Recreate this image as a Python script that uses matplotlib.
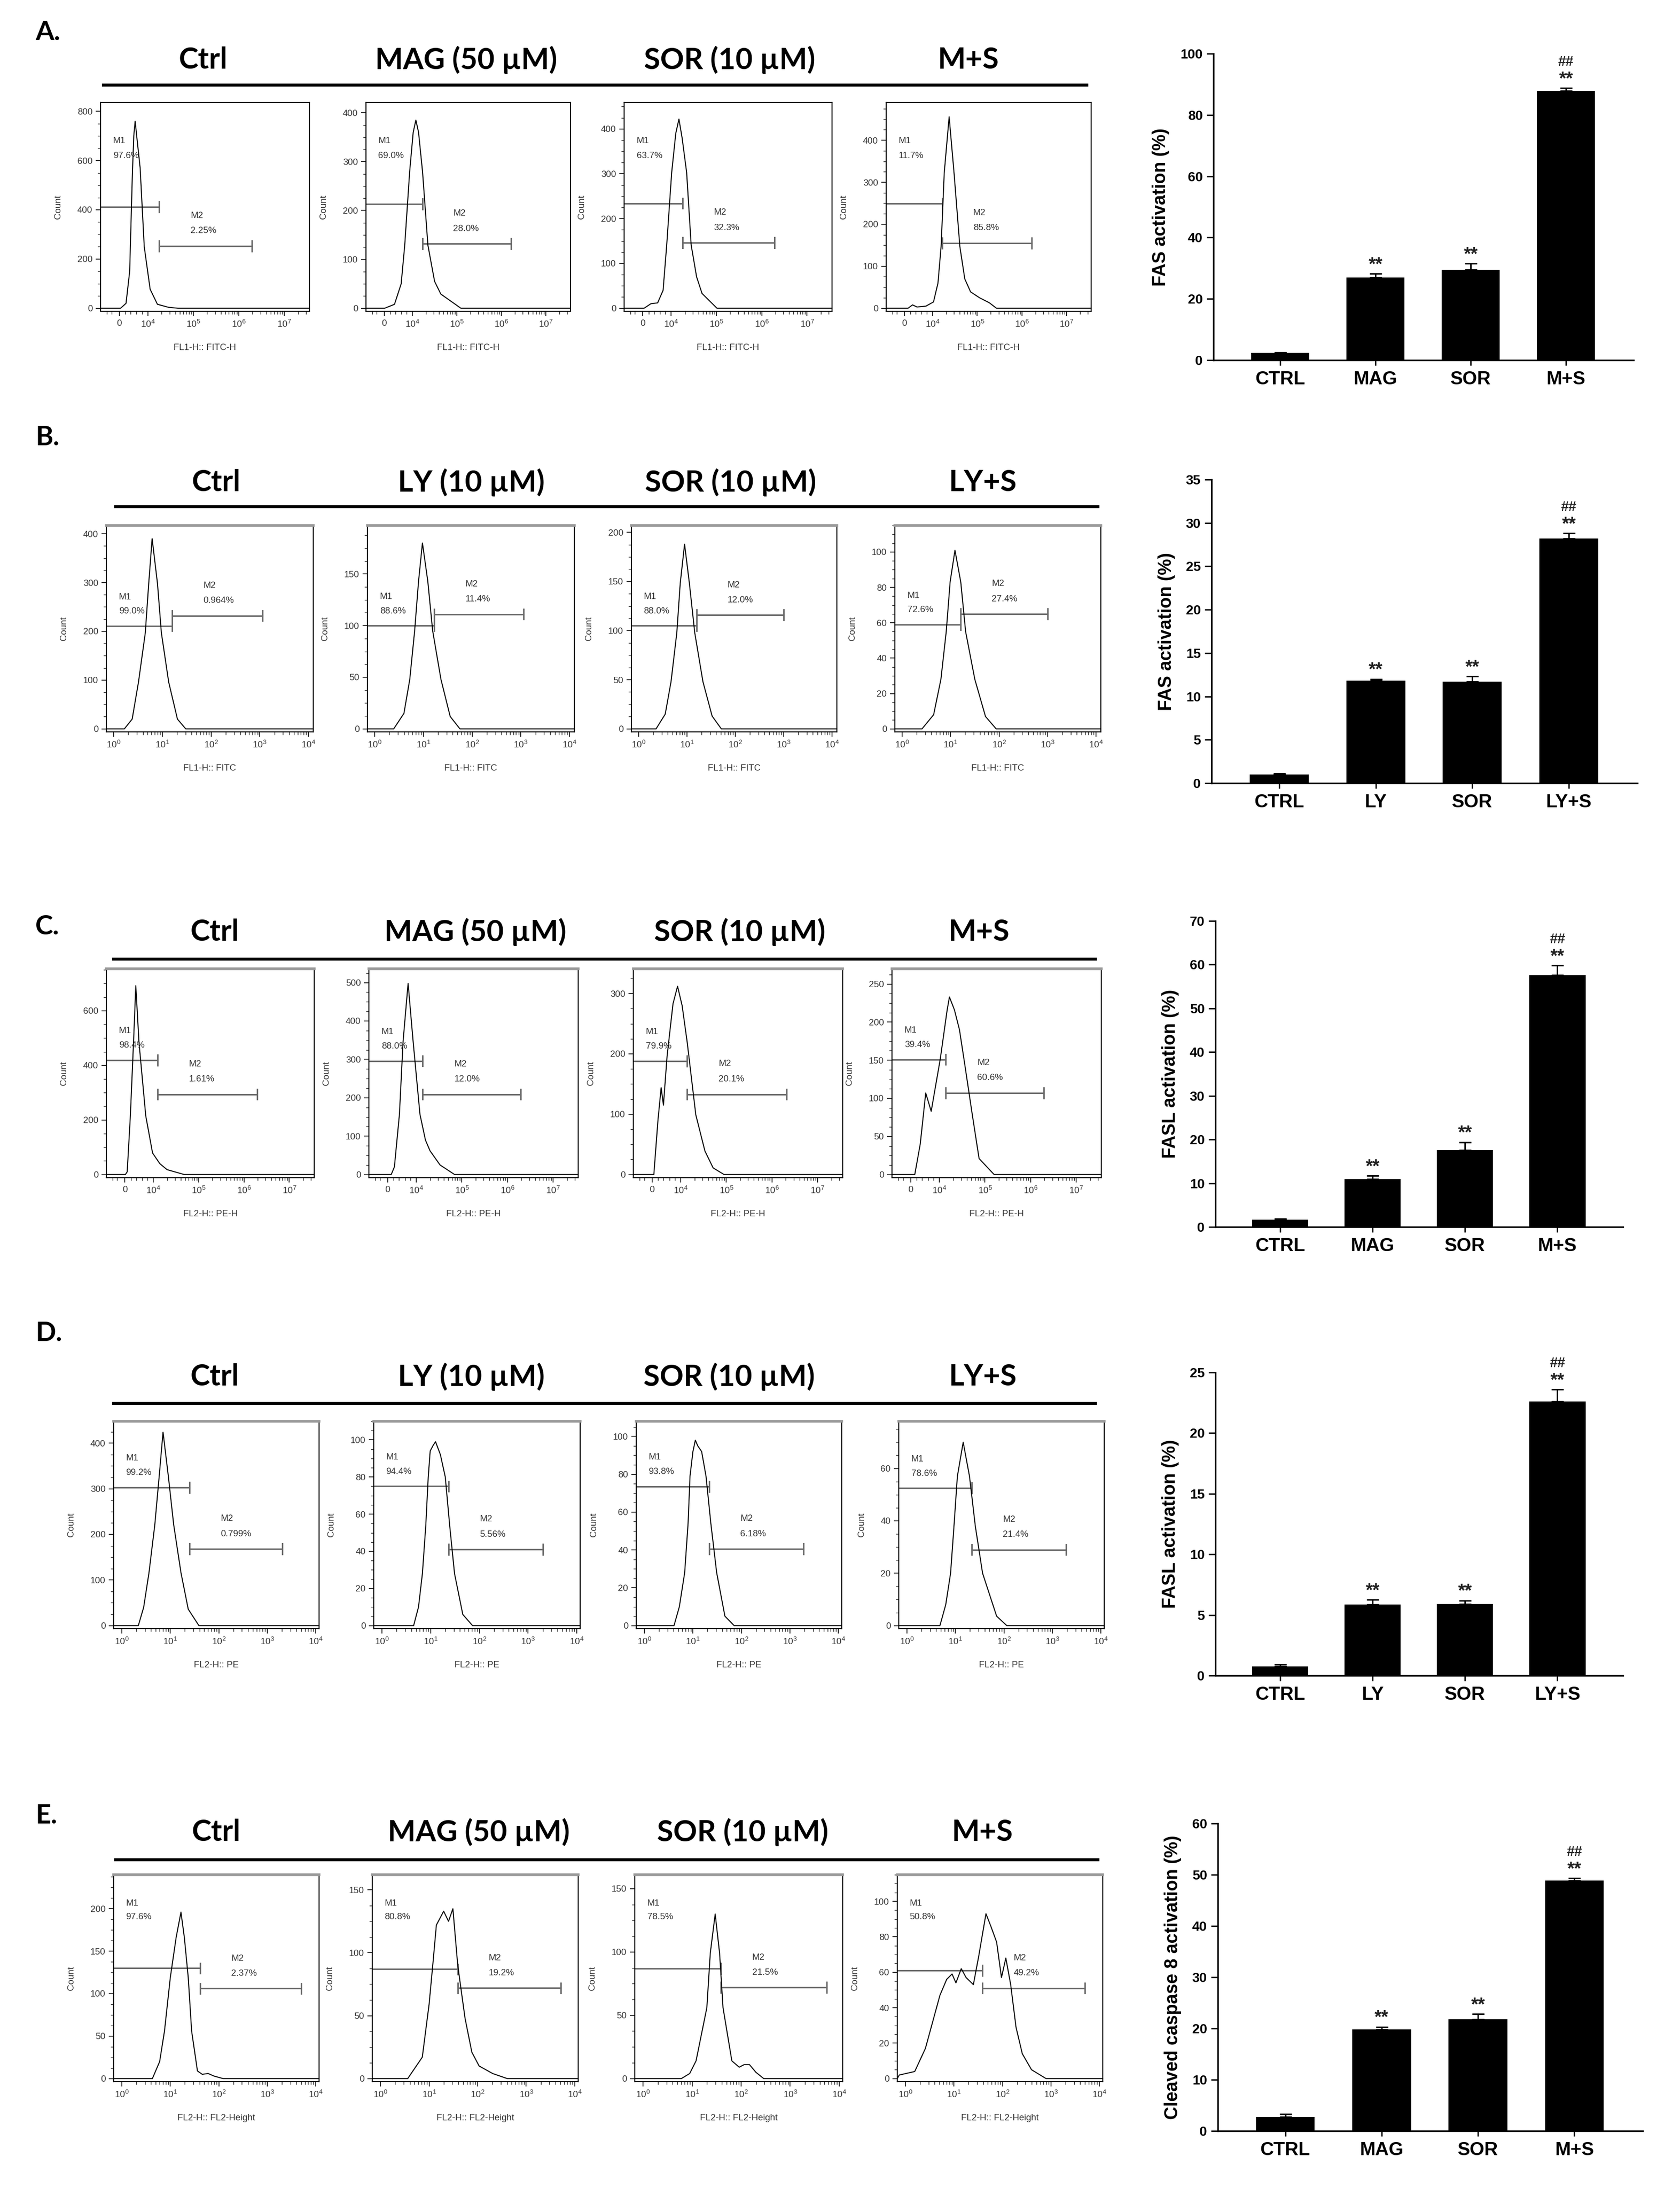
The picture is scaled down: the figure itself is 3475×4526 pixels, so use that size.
import matplotlib
matplotlib.use("Agg")
import matplotlib.pyplot as plt
from matplotlib.lines import Line2D
from matplotlib.ticker import MultipleLocator, FixedLocator
from matplotlib import font_manager
import numpy as np

# ----------------------------------------------------------------------
# Data
# Flow histograms: x in log10 decades of the channel, y in counts.
# Rows A and C use the biexponential display ("0", 10^4 .. 10^7).
# ----------------------------------------------------------------------

A_TITLES = ["Ctrl", "MAG (50 \u00b5M)", "SOR (10 \u00b5M)", "M+S"]
B_TITLES = ["Ctrl", "LY (10 \u00b5M)", "SOR (10 \u00b5M)", "LY+S"]
C_TITLES = A_TITLES
D_TITLES = B_TITLES
E_TITLES = A_TITLES

A_X = [
    [2.96, 3.40, 3.52, 3.60, 3.66, 3.69, 3.72, 3.76, 3.83, 3.92, 4.05, 4.21, 4.45, 4.66, 7.55],
    [2.96, 3.38, 3.60, 3.75, 3.83, 3.94, 4.02, 4.08, 4.14, 4.23, 4.35, 4.50, 4.64, 5.09, 7.55],
    [2.96, 3.40, 3.55, 3.70, 3.82, 3.90, 4.01, 4.10, 4.17, 4.24, 4.34, 4.44, 4.56, 4.68, 5.01, 7.55],
    [2.96, 3.45, 3.55, 3.65, 3.85, 4.02, 4.12, 4.19, 4.26, 4.37, 4.48, 4.61, 4.72, 4.85, 5.05, 5.27, 5.43, 7.55],
]
A_Y = [
    [0, 0, 20, 150, 550, 700, 760, 690, 570, 250, 77, 16, 4, 0, 0],
    [0, 0, 8, 50, 129, 279, 360, 385, 360, 279, 129, 55, 29, 0, 0],
    [0, 0, 10, 12, 40, 141, 303, 390, 422, 380, 303, 141, 70, 33, 0, 0],
    [0, 0, 8, 3, 5, 15, 60, 147, 322, 456, 322, 147, 70, 39, 25, 13, 0, 0],
]
B_X = [
    [-0.15, 0.22, 0.38, 0.51, 0.65, 0.72, 0.79, 0.90, 0.98, 1.13, 1.31, 1.48, 4.1],
    [-0.15, 0.39, 0.60, 0.72, 0.82, 0.90, 0.98, 1.09, 1.19, 1.36, 1.55, 1.75, 4.1],
    [-0.15, 0.36, 0.55, 0.67, 0.79, 0.86, 0.95, 1.05, 1.16, 1.33, 1.52, 1.71, 4.1],
    [-0.15, 0.41, 0.65, 0.80, 0.91, 0.99, 1.09, 1.21, 1.31, 1.50, 1.72, 1.94, 4.1],
]
B_Y = [
    [0, 0, 20, 96, 197, 298, 390, 298, 197, 96, 20, 0, 0],
    [0, 0, 15, 48, 95, 143, 180, 143, 95, 48, 12, 0, 0],
    [0, 0, 15, 48, 98, 148, 188, 148, 98, 48, 13, 0, 0],
    [0, 0, 8, 28, 55, 83, 101, 83, 55, 28, 7, 0, 0],
]
C_X = [
    [2.96, 3.38, 3.42, 3.49, 3.56, 3.61, 3.68, 3.83, 3.98, 4.14, 4.30, 4.68, 7.55],
    [2.96, 3.45, 3.52, 3.63, 3.71, 3.82, 3.93, 4.08, 4.20, 4.30, 4.52, 4.84, 7.55],
    [2.96, 3.41, 3.50, 3.57, 3.62, 3.70, 3.83, 3.93, 4.03, 4.14, 4.33, 4.53, 4.71, 4.95, 7.55],
    [2.96, 3.46, 3.58, 3.70, 3.82, 4.02, 4.17, 4.22, 4.33, 4.44, 4.56, 4.72, 4.87, 5.20, 7.55],
]
C_Y = [
    [0, 0, 10, 215, 485, 692, 485, 215, 79, 40, 18, 0, 0],
    [0, 0, 20, 157, 347, 498, 347, 157, 90, 62, 25, 0, 0],
    [0, 0, 90, 144, 115, 196, 283, 312, 280, 220, 99, 39, 11, 0, 0],
    [0, 0, 40, 107, 83, 152, 216, 233, 216, 190, 143, 79, 21, 0, 0],
]
D_X = [
    [-0.17, 0.34, 0.45, 0.56, 0.68, 0.77, 0.85, 0.96, 1.07, 1.22, 1.37, 1.59, 4.07],
    [-0.17, 0.65, 0.75, 0.83, 0.90, 0.95, 0.99, 1.05, 1.10, 1.20, 1.30, 1.39, 1.49, 1.66, 1.86, 4.07],
    [-0.17, 0.61, 0.72, 0.83, 0.90, 0.94, 1.00, 1.05, 1.10, 1.18, 1.27, 1.37, 1.49, 1.66, 1.85, 4.07],
    [-0.17, 0.68, 0.80, 0.90, 0.97, 1.04, 1.16, 1.29, 1.41, 1.56, 1.85, 2.06, 4.07],
]
D_Y = [
    [0, 0, 40, 116, 221, 327, 424, 327, 221, 116, 36, 0, 0],
    [0, 0, 10, 28, 54, 80, 94, 97, 99, 92, 80, 54, 28, 6, 0, 0],
    [0, 0, 10, 28, 54, 79, 92, 98, 95, 92, 79, 54, 28, 5, 0, 0],
    [0, 0, 8, 20, 38, 57, 70, 57, 38, 20, 3.6, 0, 0],
]
E_X = [
    [-0.17, 0.63, 0.78, 0.88, 1.00, 1.12, 1.22, 1.29, 1.37, 1.44, 1.56, 1.66, 1.78, 1.90, 2.09, 4.07],
    [-0.17, 0.56, 0.86, 1.00, 1.08, 1.15, 1.30, 1.40, 1.49, 1.59, 1.74, 1.88, 2.03, 2.31, 2.61, 4.07],
    [-0.17, 0.78, 0.95, 1.08, 1.30, 1.37, 1.47, 1.56, 1.63, 1.81, 1.96, 2.06, 2.17, 2.30, 2.46, 4.07],
    [-0.17, -0.13, 0.19, 0.41, 0.56, 0.71, 0.85, 0.96, 1.04, 1.15, 1.25, 1.40, 1.51, 1.66, 1.76,
     1.88, 1.98, 2.07, 2.17, 2.28, 2.41, 2.60, 2.90, 4.07],
]
E_Y = [
    [0, 0, 20, 56, 119, 166, 196, 166, 119, 56, 9, 5, 6, 3, 0, 0],
    [0, 0, 17, 59, 92, 122, 133, 125, 135, 90, 48, 21, 10, 4, 0, 0],
    [0, 0, 4, 14, 56, 99, 130, 99, 56, 14, 9, 11, 11, 5, 0, 0],
    [0, 2, 4, 17, 32, 47, 56, 59, 54, 62, 57, 53, 69, 93, 86, 77, 57, 68, 53, 29, 14, 5, 0, 0],
]

# gates per panel: (M1 end, M1 level, M2 end, M2 level); M2 starts where M1 ends
A_GATES = [(4.25, 412, 6.29, 253), (4.23, 213, 6.22, 132), (4.25, 234, 6.28, 146), (4.22, 249, 6.22, 155)]
B_GATES = [(1.20, 211, 3.06, 232), (1.22, 100, 3.06, 111), (1.20, 105, 3.00, 116), (1.21, 59, 3.00, 65)]
C_GATES = [(4.09, 419, 6.29, 294), (4.14, 296, 6.29, 209), (4.14, 188, 6.32, 133), (4.14, 151, 6.29, 107)]
D_GATES = [(1.40, 303, 3.31, 168), (1.37, 75, 3.31, 41), (1.34, 73.5, 3.28, 40.5), (1.34, 52.5, 3.28, 29)]
E_GATES = [(1.62, 130, 3.70, 106), (1.59, 87, 3.71, 72), (1.59, 87, 3.74, 72), (1.59, 61, 3.70, 51)]

A_PCTS = [("97.6%", "2.25%"), ("69.0%", "28.0%"), ("63.7%", "32.3%"), ("11.7%", "85.8%")]
B_PCTS = [("99.0%", "0.964%"), ("88.6%", "11.4%"), ("88.0%", "12.0%"), ("72.6%", "27.4%")]
C_PCTS = [("98.4%", "1.61%"), ("88.0%", "12.0%"), ("79.9%", "20.1%"), ("39.4%", "60.6%")]
D_PCTS = [("99.2%", "0.799%"), ("94.4%", "5.56%"), ("93.8%", "6.18%"), ("78.6%", "21.4%")]
E_PCTS = [("97.6%", "2.37%"), ("80.8%", "19.2%"), ("78.5%", "21.5%"), ("50.8%", "49.2%")]

# histogram y-axis top and tick step
A_YTOP, A_YSTEP = [836, 421, 459, 490], [200, 100, 100, 100]
B_YTOP, B_YSTEP = [417, 197, 207, 115], [100, 50, 50, 20]
C_YTOP, C_YSTEP = [754, 536, 341, 270], [200, 100, 100, 50]
D_YTOP, D_YSTEP = [448, 110, 108, 78], [100, 20, 20, 20]
E_YTOP, E_YSTEP = [240, 162, 161, 115], [50, 50, 50, 20]

A_XLABEL = "FL1-H:: FITC-H"
B_XLABEL = "FL1-H:: FITC"
C_XLABEL = "FL2-H:: PE-H"
D_XLABEL = "FL2-H:: PE"
E_XLABEL = "FL2-H:: FL2-Height"

# bar charts
CATS_MAG = ["CTRL", "MAG", "SOR", "M+S"]
CATS_LY = ["CTRL", "LY", "SOR", "LY+S"]
A_BAR = [2.3, 27.0, 29.5, 87.8]
A_ERR = [0.2, 1.2, 2.0, 1.0]
B_BAR = [1.0, 11.8, 11.7, 28.2]
B_ERR = [0.1, 0.2, 0.6, 0.6]
C_BAR = [1.7, 11.0, 17.6, 57.6]
C_ERR = [0.2, 0.7, 1.8, 2.2]
D_BAR = [0.75, 5.85, 5.9, 22.6]
D_ERR = [0.15, 0.4, 0.3, 1.0]
E_BAR = [2.7, 19.8, 21.8, 48.9]
E_ERR = [0.6, 0.5, 1.0, 0.4]
STARS = ["", "**", "**", "**"]
HASHES = ["", "", "", "##"]

# ----------------------------------------------------------------------
# Fonts / figure
# ----------------------------------------------------------------------
_names = {f.name for f in font_manager.fontManager.ttflist}
NARROW = "Liberation Sans Narrow" if "Liberation Sans Narrow" in _names else "Liberation Sans"
TITLE_FONT = ["Lato", "DejaVu Sans"] if "Lato" in _names else ["DejaVu Sans"]
plt.rcParams["font.family"] = [NARROW, "DejaVu Sans"]
plt.rcParams["mathtext.default"] = "regular"

W, H = 3475, 4526
GRAY = "#333333"
fig = plt.figure(figsize=(W / 100, H / 100), dpi=100)
fig.patch.set_facecolor("white")


def rect(x0, y0, x1, y1):
    return [x0 / W, 1 - y1 / H, (x1 - x0) / W, (y1 - y0) / H]


def draw_hist(box, xs, ys, xlim, ytop, ystep, gate, pcts, log_axis, xlabel, m1_fixed, gray_top):
    ax = fig.add_axes(rect(*box))
    ylo = -0.015 * ytop
    ax.plot(xs, ys, color="black", lw=1.5, zorder=3, clip_on=False)
    ax.set_xlim(*xlim)
    ax.set_ylim(ylo, ytop)

    m1_end, m1_y, m2_end, m2_y = gate
    cap = 0.025 * (ytop - ylo)
    gc = "#6a6a6a"
    ax.plot([xlim[0], m1_end], [m1_y, m1_y], color=gc, lw=2.2, zorder=2)
    ax.plot([m1_end, m1_end], [m1_y - cap, m1_y + cap], color=gc, lw=2.2)
    ax.plot([m1_end, m2_end], [m2_y, m2_y], color=gc, lw=2.2)
    for xe in (m1_end, m2_end):
        ax.plot([xe, xe], [m2_y - cap, m2_y + cap], color=gc, lw=2.2)

    def frac(v):
        return (v - ylo) / (ytop - ylo)

    if m1_fixed is None:
        y1a, y1b = frac(m1_y) + 0.14, frac(m1_y) + 0.07
    else:
        y1a, y1b = m1_fixed
    x2 = (m1_end - xlim[0]) / (xlim[1] - xlim[0]) + 0.15
    kw = dict(transform=ax.transAxes, fontsize=13.5, color=GRAY, family=NARROW, ha="left", va="center")
    ax.text(0.06, y1a, "M1", **kw)
    ax.text(0.06, y1b, pcts[0], **kw)
    ax.text(x2, frac(m2_y) + 0.145, "M2", **kw)
    ax.text(x2, frac(m2_y) + 0.072, pcts[1], **kw)

    if log_axis:
        major = [0, 1, 2, 3, 4]
        labels = [f"$10^{n}$" for n in major]
        minor = [n + np.log10(k) for n in range(4) for k in range(2, 10)]
    else:
        major = [3.37, 4, 5, 6, 7]
        labels = ["0", "$10^4$", "$10^5$", "$10^6$", "$10^7$"]
        minor = [3.1, 3.2, 3.5, 3.62, 3.75, 3.87] + [n + np.log10(k) for n in range(4, 8) for k in range(2, 10)]
        minor = [m for m in minor if m < xlim[1]]
    ax.set_xticks(major, labels, fontsize=13.5, color=GRAY, family=NARROW)
    ax.xaxis.set_minor_locator(FixedLocator(minor))

    yt = np.arange(0, ytop, ystep)
    ax.set_yticks(yt, [f"{int(v)}" for v in yt], fontsize=13.5, color=GRAY, family=NARROW)
    ax.yaxis.set_minor_locator(MultipleLocator(ystep / 4))

    ax.tick_params(which="major", direction="out", length=7, width=1.3, color="#222222", pad=5)
    ax.tick_params(which="minor", direction="out", length=4, width=1.0, color="#222222")
    ax.set_xlabel(xlabel, fontsize=13.5, color=GRAY, family=NARROW, labelpad=22)
    ax.set_ylabel("Count", fontsize=13.5, color=GRAY, family=NARROW, labelpad=22)
    for s in ax.spines.values():
        s.set_linewidth(1.6)
    if gray_top:
        ax.spines["top"].set_color("#9a9a9a")
        ax.spines["top"].set_linewidth(4)
    return ax


def draw_bars(box, cats, vals, errs, ytop, ystep, ylabel):
    ax = fig.add_axes(rect(*box))
    pos = np.arange(len(cats))
    ax.bar(pos, vals, width=0.61, color="black", zorder=2)
    ax.errorbar(pos, vals, yerr=[np.zeros(len(errs)), errs], fmt="none", ecolor="black",
                elinewidth=2.2, capsize=9, capthick=2.2, zorder=3)
    ax.set_xlim(-0.7, 3.71)
    ax.set_ylim(0, ytop)
    for s in ("top", "right"):
        ax.spines[s].set_visible(False)
    for s in ("left", "bottom"):
        ax.spines[s].set_linewidth(2.4)
    yt = np.arange(0, ytop + 1e-9, ystep)
    ax.set_yticks(yt, [f"{v:g}" for v in yt], fontsize=20, fontweight="bold", family="Liberation Sans")
    ax.set_xticks(pos, cats, fontsize=28, fontweight="bold", family="Liberation Sans")
    ax.tick_params(axis="y", direction="out", length=10, width=2, pad=6)
    ax.tick_params(axis="x", direction="out", length=8, width=2, pad=8)
    ax.set_ylabel(ylabel, fontsize=27, fontweight="bold", family="Liberation Sans", labelpad=16)
    for i in range(len(cats)):
        top = vals[i] + errs[i]
        if STARS[i]:
            ax.annotate(STARS[i], (pos[i], top), xytext=(0, 18), textcoords="offset pixels",
                        ha="center", va="center", fontsize=27, fontweight="bold",
                        family="Liberation Sans", color="#222222")
        if HASHES[i]:
            ax.annotate(HASHES[i], (pos[i], top), xytext=(0, 54), textcoords="offset pixels",
                        ha="center", va="center", fontsize=21, fontweight="bold",
                        family="Liberation Sans", color="#222222")
    return ax


ROWS = [
    dict(label="A.", label_y=67, titles=A_TITLES, title_y=124, title_x=[420, 964, 1509, 2003],
         line=(214, 2248, 176), hy=(212, 644),
         hx=[(208, 640), (757, 1180), (1291, 1721), (1833, 2257)],
         X=A_X, Y=A_Y, gates=A_GATES, pcts=A_PCTS, ytop=A_YTOP, ystep=A_YSTEP,
         xlim=(2.96, 7.55), log=False, xlabel=A_XLABEL, m1_fixed=(0.815, 0.745), gray=False,
         bar_box=(2510, 111, 3379, 745), cats=CATS_MAG, bars=A_BAR, errs=A_ERR,
         bar_top=100, bar_step=20, ylab="FAS activation (%)"),
    dict(label="B.", label_y=905, titles=B_TITLES, title_y=998, title_x=[447, 975, 1511, 2032],
         line=(239, 2271, 1048), hy=(1087, 1514),
         hx=[(220, 648), (760, 1188), (1306, 1731), (1851, 2277)],
         X=B_X, Y=B_Y, gates=B_GATES, pcts=B_PCTS, ytop=B_YTOP, ystep=B_YSTEP,
         xlim=(-0.15, 4.1), log=True, xlabel=B_XLABEL, m1_fixed=None, gray=True,
         bar_box=(2506, 992, 3387, 1620), cats=CATS_LY, bars=B_BAR, errs=B_ERR,
         bar_top=35, bar_step=5, ylab="FAS activation (%)"),
    dict(label="C.", label_y=1917, titles=C_TITLES, title_y=1928, title_x=[444, 983, 1530, 2024],
         line=(235, 2266, 1984), hy=(2004, 2436),
         hx=[(220, 650), (763, 1196), (1310, 1743), (1845, 2278)],
         X=C_X, Y=C_Y, gates=C_GATES, pcts=C_PCTS, ytop=C_YTOP, ystep=C_YSTEP,
         xlim=(2.96, 7.55), log=False, xlabel=C_XLABEL, m1_fixed=None, gray=True,
         bar_box=(2514, 1905, 3357, 2538), cats=CATS_MAG, bars=C_BAR, errs=C_ERR,
         bar_top=70, bar_step=10, ylab="FASL activation (%)"),
    dict(label="D.", label_y=2758, titles=D_TITLES, title_y=2848, title_x=[444, 975, 1508, 2032],
         line=(235, 2266, 2903), hy=(2940, 3369),
         hx=[(235, 660), (773, 1200), (1316, 1741), (1859, 2284)],
         X=D_X, Y=D_Y, gates=D_GATES, pcts=D_PCTS, ytop=D_YTOP, ystep=D_YSTEP,
         xlim=(-0.17, 4.07), log=True, xlabel=D_XLABEL, m1_fixed=None, gray=True,
         bar_box=(2514, 2839, 3357, 3466), cats=CATS_LY, bars=D_BAR, errs=D_ERR,
         bar_top=25, bar_step=5, ylab="FASL activation (%)"),
    dict(label="E.", label_y=3756, titles=E_TITLES, title_y=3790, title_x=[447, 990, 1536, 2032],
         line=(239, 2271, 3847), hy=(3878, 4306),
         hx=[(235, 660), (770, 1196), (1313, 1743), (1856, 2281)],
         X=E_X, Y=E_Y, gates=E_GATES, pcts=E_PCTS, ytop=E_YTOP, ystep=E_YSTEP,
         xlim=(-0.17, 4.07), log=True, xlabel=E_XLABEL, m1_fixed=(0.86, 0.795), gray=True,
         bar_box=(2519, 3772, 3398, 4408), cats=CATS_MAG, bars=E_BAR, errs=E_ERR,
         bar_top=60, bar_step=10, ylab="Cleaved caspase 8 activation (%)"),
]

for row in ROWS:
    fig.text(73 / W, 1 - row["label_y"] / H, row["label"], fontsize=40, fontweight="bold",
             family=TITLE_FONT, ha="left", va="center")
    for title, tx in zip(row["titles"], row["title_x"]):
        fig.text(tx / W, 1 - row["title_y"] / H, title, fontsize=44, fontweight="bold",
                 family=TITLE_FONT, ha="center", va="center")
    x0, x1, ly = row["line"]
    fig.add_artist(Line2D([x0 / W, x1 / W], [1 - ly / H, 1 - ly / H], color="black", lw=4.5,
                          transform=fig.transFigure))
    y0, y1 = row["hy"]
    for i in range(4):
        bx0, bx1 = row["hx"][i]
        draw_hist((bx0, y0, bx1, y1), row["X"][i], row["Y"][i], row["xlim"], row["ytop"][i],
                  row["ystep"][i], row["gates"][i], row["pcts"][i], row["log"], row["xlabel"],
                  row["m1_fixed"], row["gray"])
    draw_bars(row["bar_box"], row["cats"], row["bars"], row["errs"], row["bar_top"],
              row["bar_step"], row["ylab"])

fig.savefig("out.png", dpi=100, facecolor="white")
